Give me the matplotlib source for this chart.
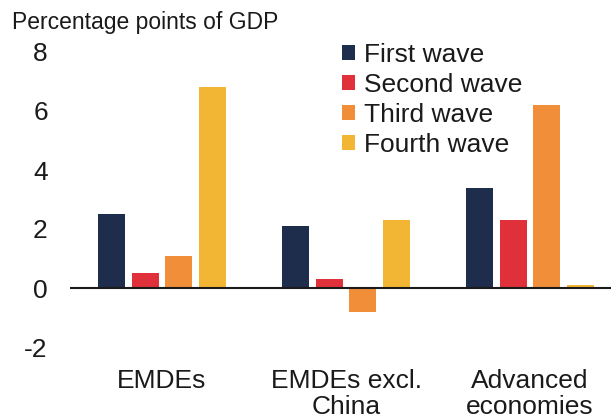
import numpy as np
import matplotlib
matplotlib.use("Agg")
import matplotlib.pyplot as plt
from matplotlib.ticker import FuncFormatter

plt.rcParams['font.family'] = ['Liberation Sans', 'DejaVu Sans']

categories = ['EMDEs', 'EMDEs excl.\nChina', 'Advanced\neconomies']
series = ['First wave', 'Second wave', 'Third wave', 'Fourth wave']
first_wave = [2.5, 2.1, 3.4]
second_wave = [0.5, 0.3, 2.3]
third_wave = [1.1, -0.8, 6.2]
fourth_wave = [6.8, 2.3, 0.1]
colors = ['#1f2d4c', '#e0303a', '#f08e3a', '#f3b634']

fig = plt.figure(figsize=(6.11, 4.19), dpi=100)
ax = fig.add_axes([70/611, 1-347/419, 1-70/611, 295/419])

x = np.arange(len(categories))
step = 0.182
w = 0.147
for i, (vals, name) in enumerate(zip([first_wave, second_wave, third_wave, fourth_wave], series)):
    ax.bar(x + (i - 1.5)*step, vals, width=w, color=colors[i], label=name, zorder=2)

ax.axhline(0, color='#1a1a1a', lw=1.5, zorder=3)
ax.set_xlim(-0.5, 2.44)
ax.set_ylim(-2, 8)
ax.set_yticks([-2, 0, 2, 4, 6, 8])
ax.yaxis.set_major_formatter(FuncFormatter(lambda v, p: '%d' % v))
ax.set_xticks(x)
ax.set_xticklabels(categories, fontsize=19, linespacing=1.1)
ax.tick_params(axis='both', length=0, labelsize=19, colors='#1a1a1a')
ax.tick_params(axis='x', pad=16)
ax.tick_params(axis='y', pad=16)
for s in ax.spines.values():
    s.set_visible(False)

fig.text(12/611, 1-23/419, 'Percentage points of GDP', fontsize=16.5, va='center', ha='left', color='#1a1a1a')

ax.legend(loc='upper left', bbox_to_anchor=(342/611, 1-43/419), bbox_transform=fig.transFigure,
          frameon=False, fontsize=19, handlelength=0.5, handleheight=0.5,
          handletextpad=0.35, labelspacing=0.23, borderaxespad=0, borderpad=0,
          labelcolor='#1a1a1a')

fig.savefig('out.png', dpi=100)
